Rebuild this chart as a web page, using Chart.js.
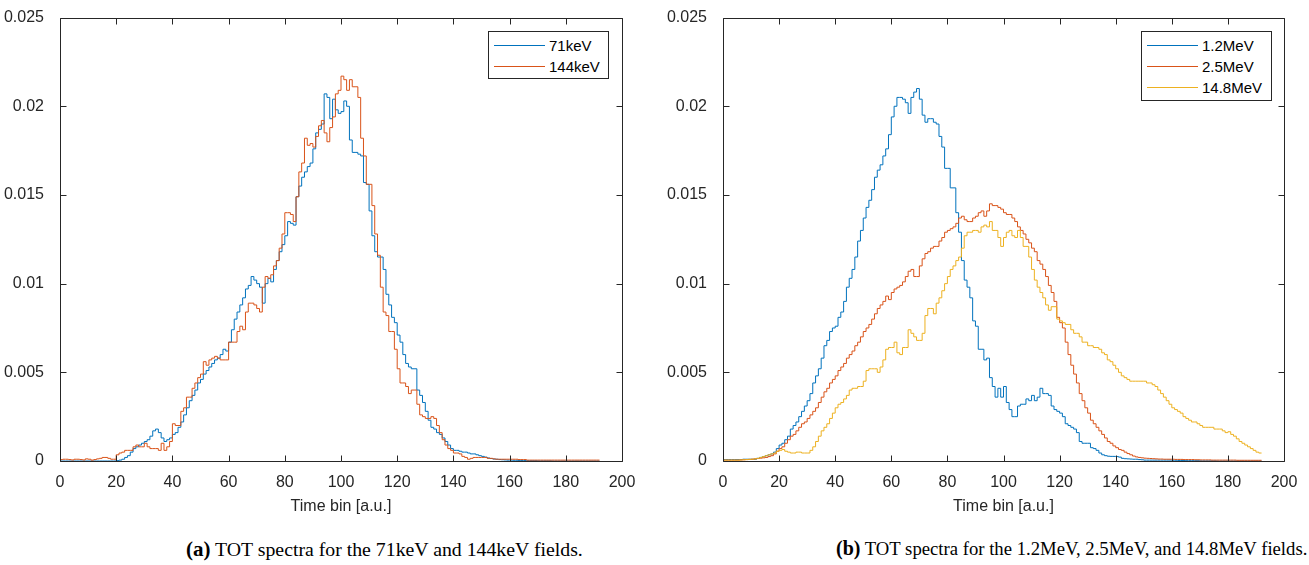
<!DOCTYPE html>
<html>
<head>
<meta charset="utf-8">
<script src="https://cdn.jsdelivr.net/npm/chart.js@4.4.1/dist/chart.umd.min.js"></script>
<style>
  body { margin: 0; background: #fff; }
  #page { position: relative; width: 1309px; height: 565px; overflow: hidden; }
  canvas { position: absolute; top: 0; }
  .legend { position: absolute; border: 1px solid #262626; background: #fff;
            font: 15px 'Liberation Sans', Arial, sans-serif; color: #000; }
  .legend .row { position: absolute; left: 5px; height: 20px; display: flex; align-items: center; }
  .legend .swatch { width: 51px; height: 0; border-top: 1px solid; margin-right: 4px; }
  .caption { position: absolute; top: 537px; white-space: nowrap;
             font-family: 'Liberation Serif', 'Times New Roman', serif; color: #000; }
</style>
</head>
<body>
<div id="page">
  <canvas id="chartA" width="655" height="525" style="left:0"></canvas>
  <canvas id="chartB" width="654" height="525" style="left:655px"></canvas>

  <div class="legend" style="left:488px; top:31px; width:119px; height:46px;">
    <div class="row" style="top:3px"><span class="swatch" style="border-color:#0072BD"></span>71keV</div>
    <div class="row" style="top:24px"><span class="swatch" style="border-color:#D95319"></span>144keV</div>
  </div>
  <div class="legend" style="left:1141px; top:31px; width:129px; height:68px;">
    <div class="row" style="top:3px"><span class="swatch" style="border-color:#0072BD"></span>1.2MeV</div>
    <div class="row" style="top:24px"><span class="swatch" style="border-color:#D95319"></span>2.5MeV</div>
    <div class="row" style="top:45px"><span class="swatch" style="border-color:#EDB120"></span>14.8MeV</div>
  </div>

  <div class="caption" style="left:186px; font-size:19.8px"><b style="font-size:21px">(a)</b> TOT spectra for the 71keV and 144keV fields.</div>
  <div class="caption" style="left:836px; font-size:18.7px"><b style="font-size:20px">(b)</b> TOT spectra for the 1.2MeV, 2.5MeV, and 14.8MeV fields.</div>
</div>

<script>
// histogram counts per time bin (bin i covers [i, i+1)), in units of 1e-4
const SCALE = 1e-4;

const xTicks = [0, 20, 40, 60, 80, 100, 120, 140, 160, 180, 200];
const yTicks = [0, 0.005, 0.01, 0.015, 0.02, 0.025];

const labelsA = ['71keV', '144keV'];
const labelsB = ['1.2MeV', '2.5MeV', '14.8MeV'];

const kev71 = [
  0, 0, 0, 0, 0, 0, 0, 0, 0, 0,
  0, 0, 0, 0, 0, 0, 0, 0, 0, 0,
  0.2, 0.5, 1, 2, 3, 5, 7, 8, 9, 10,
  11, 12, 14, 17, 18, 16, 13, 11, 12, 13,
  15, 16, 19, 22, 26, 30, 34, 37, 40, 44,
  46, 49, 51, 53, 55, 57, 58, 60, 63, 62,
  67, 74, 80, 84, 88, 92, 97, 99, 104, 102,
  100, 98, 89, 100, 103, 101, 108, 113, 118, 122,
  127, 135, 134, 133, 149, 155, 160, 163, 166, 168,
  176, 185, 187, 190, 207, 205, 193, 204, 198, 196,
  197, 203, 200, 181, 174, 174, 173, 172, 157, 156,
  141, 127, 118, 115, 115, 108, 94, 88, 81, 78,
  71, 67, 60, 55, 53, 52, 52, 40, 37, 33,
  28, 23, 19, 18, 16, 15, 13, 11, 9, 7,
  6, 6, 5.5, 5, 5, 4.5, 4, 4, 3.5, 3,
  2.6, 2.2, 1.7, 1.4, 1.1, 1, 0.8, 0.7, 0.6, 0.5,
  0.5, 0.4, 0.4, 0.3, 0.3, 0.3, 0.2, 0.2, 0.2, 0.2,
  0.1, 0.1, 0.1, 0.1, 0.1, 0, 0, 0, 0, 0,
  0, 0, 0, 0, 0, 0, 0, 0, 0, 0,
  0, 0
];

const kev144 = [
  0.8, 1, 1, 0.8, 0.6, 1, 1, 0.8, 0.6, 1.2,
  1, 0.5, 0.8, 1.2, 1.5, 2, 2, 1.5, 1, 1,
  3.5, 4.5, 5, 6, 6, 6, 8, 9, 8, 8,
  10, 8, 7, 7, 7, 6, 10, 6, 8, 11,
  21, 20, 20, 28, 30, 36, 36, 41, 44, 47,
  49, 56, 54, 57, 58, 59, 58, 57, 57, 57,
  67, 67, 67, 73, 76, 74, 84, 89, 89, 88,
  86, 84, 98, 104, 103, 105, 110, 113, 120, 128,
  140, 140, 139, 135, 149, 163, 168, 182, 178, 179,
  177, 183, 189, 192, 185, 180, 188, 194, 207, 209,
  217, 215, 209, 215, 211, 211, 205, 182, 172, 156,
  156, 144, 128, 116, 98, 84, 82, 73, 73, 63,
  52, 44, 44, 42, 38, 40, 40, 32, 26, 25,
  24, 24, 25, 24, 20, 16, 12, 9, 7, 6,
  4.5, 4.5, 4, 2.6, 2, 1, 1.5, 2, 2, 2,
  2, 2, 1.5, 1.5, 1.2, 1, 1, 1, 1, 1,
  1, 1, 1, 0.8, 0.8, 0.8, 0.5, 0.5, 0.5, 0.5,
  0.5, 0.5, 0.5, 0.5, 0.5, 0.5, 0.5, 0.5, 0.5, 0.5,
  0.5, 0.5, 0.5, 0.5, 0.5, 0.5, 0.5, 0.5, 0.5, 0.5,
  0.5, 0.5
];

const mev12 = [
  0.8, 0.8, 0.8, 0.8, 0.8, 0.8, 0.8, 1, 1, 1,
  1, 1, 1.5, 2, 2.5, 3, 3.5, 4, 5, 7,
  9, 10, 12, 14, 18, 20, 22, 25, 28, 31,
  34, 38, 44, 48, 52, 58, 65, 68, 73, 75,
  76, 81, 84, 90, 98, 103, 108, 115, 124, 130,
  137, 143, 147, 153, 160, 164, 167, 172, 176, 184,
  194, 200, 205, 205, 204, 202, 196, 205, 208, 210,
  204, 195, 191, 193, 193, 191, 190, 183, 177, 165,
  165, 154, 154, 140, 129, 113, 102, 98, 92, 79,
  76, 63, 63, 57, 58, 47, 42, 36, 41, 36,
  42, 33, 29, 25, 25, 31, 32, 32, 35, 34,
  37, 34, 36, 41, 38, 38, 37, 31, 29, 28,
  27, 25, 21, 20, 19, 18, 16, 11, 10, 10,
  10, 7.5, 7, 6, 4.5, 3.5, 3, 2.7, 2.6, 2.6,
  2.5, 2.2, 1.5, 1.3, 1.2, 1.1, 1, 1, 0.8, 0.7,
  0.5, 0.5, 0.5, 0.5, 0.5, 0.5, 0.5, 0.5, 0.5, 0.5,
  0.4, 0.4, 0.3, 0.3, 0.3, 0.2, 0.2, 0.2, 0.2, 0.2,
  0.1, 0.1, 0.1, 0.1, 0.1, 0.1, 0, 0, 0, 0,
  0, 0, 0, 0, 0, 0, 0, 0, 0, 0,
  0, 0
];

const mev25 = [
  0.5, 0.5, 0.5, 0.5, 0.5, 0.5, 0.6, 0.7, 0.8, 0.9,
  1, 1.2, 1.4, 1.6, 1.8, 2, 2.5, 3, 4, 5.5,
  7, 8, 10, 12, 14, 15, 17, 19, 21, 22,
  24, 26, 28, 30, 33, 36, 39, 41, 44, 46,
  48, 51, 53, 55, 58, 60, 62, 65, 67, 70,
  73, 75, 77, 80, 83, 86, 88, 90, 93, 91,
  95, 97, 98, 99, 101, 104, 107, 108, 104, 104,
  110, 114, 117, 118, 120, 121, 121, 124, 126, 129,
  130, 131, 132, 134, 137, 138, 136, 135, 135, 137,
  138, 140, 141, 138, 141, 145, 144, 144, 143, 142,
  140, 139, 139, 137, 135, 132, 130, 128, 125, 123,
  120, 118, 113, 111, 108, 104, 99, 95, 90, 81,
  78, 75, 67, 60, 54, 49, 44, 38, 34, 30,
  27, 23, 21, 19, 17, 15, 13, 11, 10, 8.5,
  7.5, 6.5, 6, 5, 4.2, 3.5, 2.8, 2.3, 2, 1.8,
  1.6, 1.5, 1.4, 1.3, 1.2, 1.1, 1.1, 1, 1, 1,
  1, 0.9, 0.9, 0.9, 0.8, 0.8, 0.8, 0.8, 0.7, 0.7,
  0.6, 0.6, 0.6, 0.6, 0.5, 0.5, 0.5, 0.5, 0.5, 0.5,
  0.5, 0.5, 0.5, 0.4, 0.4, 0.4, 0.4, 0.4, 0.4, 0.4,
  0.4, 0.4
];

const mev148 = [
  0.5, 0.5, 0.5, 0.5, 0.5, 0.5, 0.6, 0.7, 0.8, 0.9,
  1, 1.2, 1.5, 2, 2.5, 3, 3.5, 4, 4.5, 5.5,
  6, 6.5, 5.5, 5, 4.5, 4.5, 5, 5, 4.5, 4.5,
  4.5, 6, 8, 11, 14, 17, 19, 21, 24, 27,
  30, 32, 33, 35, 37, 40, 41, 41, 42, 42,
  45, 51, 52, 52, 52, 50, 53, 57, 63, 64,
  64, 67, 61, 60, 64, 64, 74, 72, 70, 68,
  68, 72, 82, 86, 86, 83, 89, 92, 96, 100,
  104, 108, 110, 113, 115, 120, 127, 129, 129, 130,
  130, 129, 132, 133, 132, 135, 130, 130, 126, 121,
  126, 129, 130, 127, 126, 130, 126, 121, 121, 115,
  108, 102, 98, 95, 92, 88, 85, 87, 87, 80,
  79, 78, 77, 77, 74, 72, 72, 70, 67, 67,
  65, 65, 64, 64, 63, 61, 60, 57, 56, 54,
  52, 50, 48, 47, 46, 45, 45, 45, 45, 45,
  45, 44, 44, 43, 42, 40, 38, 36, 34, 32,
  30, 29, 28, 27, 25, 24, 23, 22, 22, 21,
  20, 19, 19, 19, 19, 18, 18, 18, 17, 16,
  16.5, 15, 14, 12.5, 11, 10, 9, 8, 7, 6,
  5, 4.5
];

const BLUE = '#0072BD';
const ORANGE = '#D95319';
const YELLOW = '#EDB120';
const AXIS = '#262626';
const FONT = "'Liberation Sans', Arial, Helvetica, sans-serif";

// turn bin counts into step points, closing the last bin
function toSteps(arr) {
  const pts = arr.map((v, i) => ({ x: i, y: v * SCALE }));
  pts.push({ x: arr.length, y: arr[arr.length - 1] * SCALE });
  return pts;
}

// MATLAB-style box with inward ticks on all four sides
const boxTicks = {
  id: 'boxTicks',
  afterDatasetsDraw(chart) {
    const { ctx, chartArea: a, scales } = chart;
    const L = Math.round(a.left) + 0.5, R = Math.round(a.right) + 0.5;
    const T = Math.round(a.top) + 0.5, B = Math.round(a.bottom) + 0.5;
    const len = 6;
    ctx.save();
    ctx.strokeStyle = AXIS;
    ctx.lineWidth = 1;
    ctx.beginPath();
    ctx.rect(L, T, R - L, B - T);
    scales.x.ticks.forEach(t => {
      const px = Math.round(scales.x.getPixelForValue(t.value)) + 0.5;
      ctx.moveTo(px, B); ctx.lineTo(px, B - len);
      ctx.moveTo(px, T); ctx.lineTo(px, T + len);
    });
    scales.y.ticks.forEach(t => {
      const py = Math.round(scales.y.getPixelForValue(t.value)) + 0.5;
      ctx.moveTo(L, py); ctx.lineTo(L + len, py);
      ctx.moveTo(R, py); ctx.lineTo(R - len, py);
    });
    ctx.stroke();
    ctx.restore();
  }
};

function makeChart(id, datasets, yAxisWidth, padRight) {
  return new Chart(document.getElementById(id), {
    type: 'line',
    data: { datasets },
    options: {
      responsive: false,
      animation: false,
      layout: { padding: { top: 17, right: padRight, left: 0, bottom: 0 } },
      elements: { point: { radius: 0 }, line: { borderWidth: 1, tension: 0 } },
      plugins: { legend: { display: false }, tooltip: { enabled: false } },
      scales: {
        x: {
          type: 'linear',
          min: xTicks[0],
          max: xTicks[xTicks.length - 1],
          afterBuildTicks: s => { s.ticks = xTicks.map(v => ({ value: v })); },
          afterFit: s => { s.height = 64; },
          grid: { display: false },
          border: { display: false },
          ticks: { color: AXIS, padding: 4, maxRotation: 0, font: { family: FONT, size: 16 } },
          title: {
            display: true,
            text: 'Time bin [a.u.]',
            color: AXIS,
            padding: { top: 0, bottom: 9 },
            font: { family: FONT, size: 16 },
          },
        },
        y: {
          min: yTicks[0],
          max: yTicks[yTicks.length - 1],
          afterBuildTicks: s => { s.ticks = yTicks.map(v => ({ value: v })); },
          afterFit: s => { s.width = yAxisWidth; },
          grid: { display: false },
          border: { display: false },
          ticks: {
            color: AXIS,
            padding: 8,
            font: { family: FONT, size: 16 },
            callback: v => String(+v.toFixed(3)),
          },
        },
      },
    },
    plugins: [boxTicks],
  });
}

function series(label, arr, color, order) {
  return {
    label,
    data: toSteps(arr),
    borderColor: color,
    backgroundColor: color,
    stepped: true,
    fill: false,
    order,
  };
}

makeChart('chartA', [
  series(labelsA[0], kev71, BLUE, 2),
  series(labelsA[1], kev144, ORANGE, 1),
], 60, 33);

makeChart('chartB', [
  series(labelsB[0], mev12, BLUE, 3),
  series(labelsB[1], mev25, ORANGE, 2),
  series(labelsB[2], mev148, YELLOW, 1),
], 68, 25);
</script>
</body>
</html>
